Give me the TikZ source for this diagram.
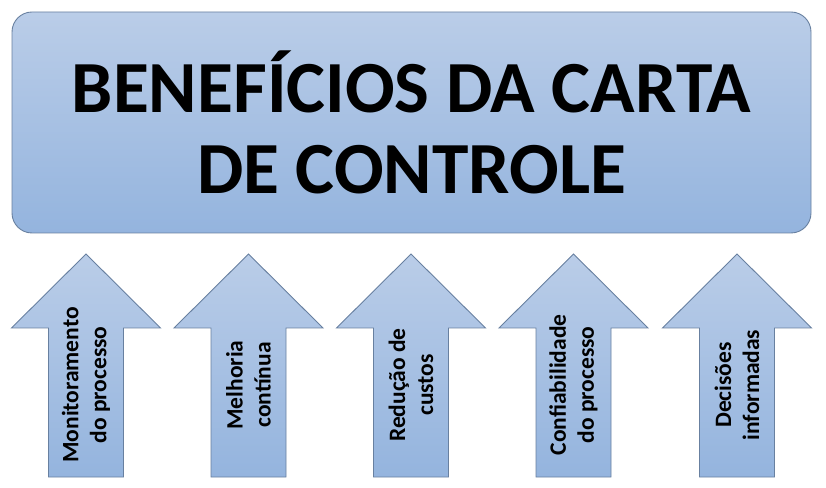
\documentclass[tikz,border=0pt]{standalone}
\usepackage{fontspec}
\setmainfont{Carlito}
\definecolor{boxtop}{RGB}{186,205,232}
\definecolor{boxbot}{RGB}{148,180,222}
\definecolor{boxline}{RGB}{104,128,160}
\begin{document}
\begin{tikzpicture}[x=1pt,y=1pt,line join=miter]
				\tikzset{benefit/.style={draw=boxline,line width=0.9pt,top color=boxtop,bottom color=boxbot},
					arrowlabel/.style={rotate=90,align=center,font=\fontsize{23.5}{28}\selectfont\bfseries,inner sep=0pt}
				}
				\useasboundingbox (0,0) rectangle (826,487);
				\node[benefit,rounded corners=20pt,minimum width=799pt,minimum height=221pt,align=center,
				font=\fontsize{73.5}{81}\selectfont\bfseries] (title) at (411.5,364.5) {BENEFÍCIOS DA CARTA\\DE CONTROLE};
				\foreach \x/\t [count=\i] in {86/{Monitoramento\\do processo}, 248.5/{Melhoria\\contínua},
					411/{Redução de\\custos}, 573.5/{Confiabilidade\\do processo}, 737/{Decisões\\informadas}}{
					\draw[benefit] (\x-37.5,10)--(\x-37.5,159)--(\x-74.5,159)--(\x,233)--(\x+74.5,159)
					--(\x+37.5,159)--(\x+37.5,10)--cycle;
					\node[arrowlabel] (b\i) at (\x,102) {\t};
				}
			\end{tikzpicture}
\end{document}
